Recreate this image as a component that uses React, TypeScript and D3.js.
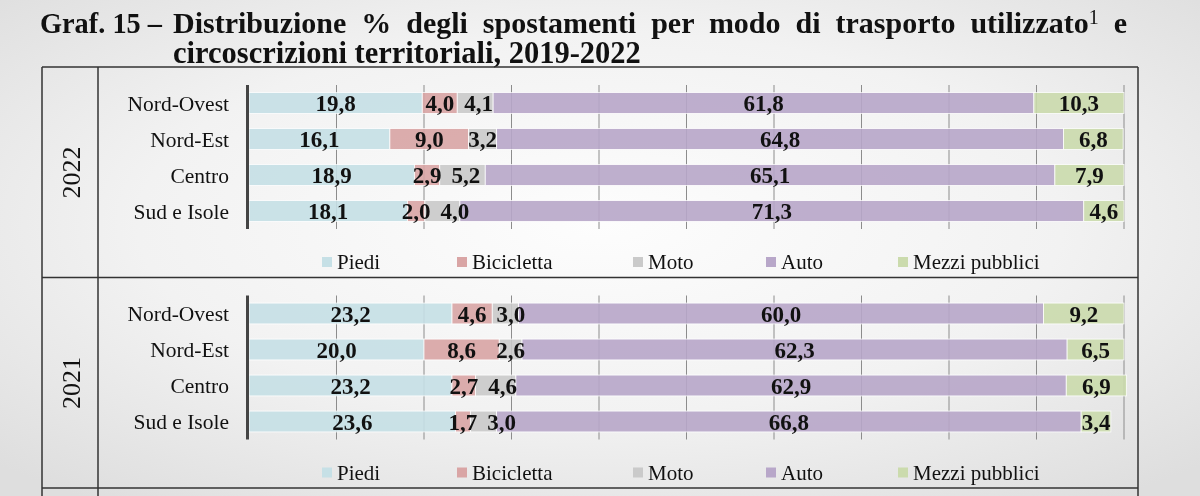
import React, { useLayoutEffect, useRef, useState } from "react";
import * as d3 from "d3";

const modes = ["Piedi", "Bicicletta", "Moto", "Auto", "Mezzi pubblici"];
const regions = ["Nord-Ovest", "Nord-Est", "Centro", "Sud e Isole"];
const colors = ["#c6e0e6", "#d9a5a5", "#cacaca", "#b8a7c9", "#cbdbad"];
const values2022 = [
  [19.8, 4.0, 4.1, 61.8, 10.3],
  [16.1, 9.0, 3.2, 64.8, 6.8],
  [18.9, 2.9, 5.2, 65.1, 7.9],
  [18.1, 2.0, 4.0, 71.3, 4.6],
];
const values2021 = [
  [23.2, 4.6, 3.0, 60.0, 9.2],
  [20.0, 8.6, 2.6, 62.3, 6.5],
  [23.2, 2.7, 4.6, 62.9, 6.9],
  [23.6, 1.7, 3.0, 66.8, 3.4],
];
const years = ["2022", "2021"];
const gridTicks = [10, 20, 30, 40, 50, 60, 70, 80, 90, 100];
const legendX = [322, 457, 633, 766, 898];

const W = 1200;
const H = 496;
const SERIF = "'Liberation Serif', 'Times New Roman', serif";
const LABEL_SIZE = 23;
const fmt = (v: number) => d3.format(".1f")(v).replace(".", ",");
const labelWidth = (s: string) =>
  s.split("").reduce((a, c) => a + (c === "," ? 0.25 : 0.5), 0) * LABEL_SIZE;

const x = d3.scaleLinear().domain([0, 100]).range([249, 1124]);

function Panel({ top, year, values }: { top: number; year: string; values: number[][] }) {
  const y = d3
    .scaleBand<string>()
    .domain(regions)
    .range([top + 18, top + 162])
    .paddingInner(0.42)
    .paddingOuter(0.21);
  const rows = regions.map((r, i) => {
    const o: any = { region: r };
    modes.forEach((m, j) => (o[m] = values[i][j]));
    return o;
  });
  const series = d3.stack<any>().keys(modes)(rows);
  const [r0, r1] = y.range();

  // label positions with simple collision avoidance per row
  const labels: { key: string; x: number; y: number; text: string }[] = [];
  regions.forEach((r, ri) => {
    let prevRight = -Infinity;
    series.forEach((s, si) => {
      const d = s[ri];
      const text = fmt(d[1] - d[0]);
      const w = labelWidth(text);
      let cx = (x(d[0]) + x(d[1])) / 2;
      const minLeft = prevRight + 10;
      if (cx - w / 2 < minLeft) cx = minLeft + w / 2;
      prevRight = cx + w / 2;
      labels.push({
        key: `${si}-${ri}`,
        x: cx,
        y: (y(r) as number) + y.bandwidth() / 2,
        text,
      });
    });
  });

  return (
    <g>
      {gridTicks.map((t) => (
        <line key={t} x1={x(t)} x2={x(t)} y1={r0} y2={r1} stroke="#8c8c8c" strokeWidth={1} />
      ))}
      {series.map((s, si) => (
        <g key={si} fill={colors[si]}>
          {s.map((d, di) => (
            <rect
              key={di}
              x={x(d[0])}
              y={y(d.data.region)}
              width={Math.max(0, x(d[1]) - x(d[0]))}
              height={y.bandwidth()}
              opacity={0.9}
              stroke="#ffffff"
              strokeWidth={0.8}
            />
          ))}
        </g>
      ))}
      {labels.map((l) => (
        <text
          key={l.key}
          x={l.x}
          y={l.y}
          dy="0.35em"
          textAnchor="middle"
          fontFamily={SERIF}
          fontWeight="bold"
          fontSize={LABEL_SIZE}
          fill="#111"
        >
          {l.text}
        </text>
      ))}
      <line x1={247.5} x2={247.5} y1={r0} y2={r1} stroke="#444" strokeWidth={3} />
      {regions.map((r) => (
        <text
          key={r}
          x={229}
          y={(y(r) as number) + y.bandwidth() / 2}
          dy="0.35em"
          textAnchor="end"
          fontFamily={SERIF}
          fontSize={21.5}
          fill="#111"
        >
          {r}
        </text>
      ))}
      <text
        transform={`translate(71,${top + 105.5}) rotate(-90)`}
        textAnchor="middle"
        dy="0.35em"
        fontFamily={SERIF}
        fontSize={26}
        fill="#111"
      >
        {year}
      </text>
      {modes.map((m, i) => (
        <g key={m}>
          <rect x={legendX[i]} y={top + 190} width={10} height={10} fill={colors[i]} />
          <text x={legendX[i] + 15} y={top + 202} fontFamily={SERIF} fontSize={21} fill="#111">
            {m}
          </text>
        </g>
      ))}
    </g>
  );
}

export default function App() {
  const titleRef = useRef<SVGTextElement>(null);
  const [ws, setWs] = useState(0);
  useLayoutEffect(() => {
    const el = titleRef.current;
    if (!el) return;
    el.setAttribute("word-spacing", "0");
    const natural = el.getComputedTextLength();
    setWs((1127 - 173 - natural) / 9);
  }, []);
  const panelTops = [67, 277.5];
  return (
    <svg
      width={W}
      height={H}
      style={{ position: "fixed", left: 0, top: 0, display: "block" }}
    >
      <defs>
        <radialGradient id="bg" cx="50%" cy="45%" r="70%">
          <stop offset="0%" stopColor="#fdfdfd" />
          <stop offset="55%" stopColor="#f2f2f2" />
          <stop offset="100%" stopColor="#dedede" />
        </radialGradient>
      </defs>
      <rect x={0} y={0} width={W} height={H} fill="url(#bg)" />
      <text
        x={40}
        y={33}
        fontFamily={SERIF}
        fontWeight="bold"
        fontSize={30}
        fill="#111"
        textLength={122}
        lengthAdjust="spacingAndGlyphs"
      >
        Graf. 15 –
      </text>
      <text
        ref={titleRef}
        x={173}
        y={33}
        fontFamily={SERIF}
        fontWeight="bold"
        fontSize={30}
        fill="#111"
        wordSpacing={ws}
      >
        Distribuzione % degli spostamenti per modo di trasporto utilizzato
        <tspan fontWeight="normal" fontSize={20} dy={-9}>1</tspan>
        <tspan dy={9}> e</tspan>
      </text>
      <text x={173} y={63} fontFamily={SERIF} fontWeight="bold" fontSize={30.5} fill="#111">
        circoscrizioni territoriali, 2019-2022
      </text>
      <g stroke="#333" strokeWidth={1.5} fill="none">
        <line x1={42} x2={42} y1={67} y2={H} />
        <line x1={98} x2={98} y1={67} y2={H} />
        <line x1={1138} x2={1138} y1={67} y2={H} />
        <line x1={42} x2={1138} y1={67} y2={67} />
        <line x1={42} x2={1138} y1={277.5} y2={277.5} />
        <line x1={42} x2={1138} y1={488} y2={488} />
      </g>
      {years.map((yr, i) => (
        <Panel key={yr} top={panelTops[i]} year={yr} values={i === 0 ? values2022 : values2021} />
      ))}
    </svg>
  );
}
